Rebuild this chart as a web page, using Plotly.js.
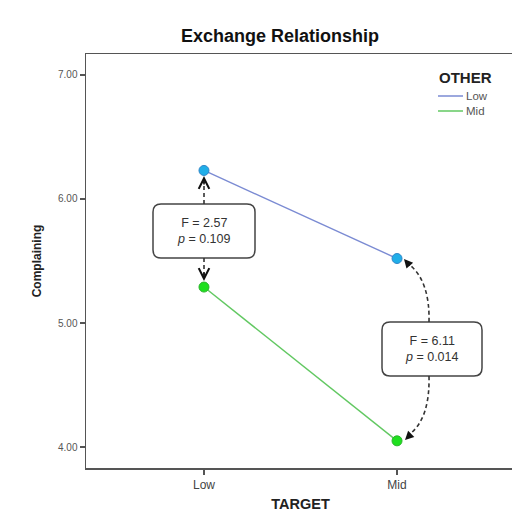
<!DOCTYPE html>
<html><head><meta charset="utf-8">
<script src="https://cdn.plot.ly/plotly-3.0.1.min.js"></script>
<style>html,body{margin:0;padding:0;overflow:hidden;background:#fff}#chart{width:515px;height:512px}</style>
</head><body><div id="chart"></div>
<script>
// ---- data ----
const targets = ['Low', 'Mid'];
const otherGroups = ['Low', 'Mid'];
const complainingOtherLow = [6.23, 5.52];
const complainingOtherMid = [5.29, 4.05];
const yTickVals = [4, 5, 6, 7];
const testF = ['2.57', '6.11'];
const testP = ['0.109', '0.014'];

// ---- geometry ----
const L = 86, T = 54, W = 429, H = 414;
const xr = [-0.611, 1.611], yr = [3.831, 7.169];
const X = px => xr[0] + (px - L) / W * (xr[1] - xr[0]);
const Y = py => yr[1] - (py - T) / H * (yr[1] - yr[0]);
const P = (px, py) => X(px).toFixed(5) + ',' + Y(py).toFixed(5);
function rrect(x0, y0, x1, y1, r) {
  return 'M' + P(x0 + r, y0) + ' L' + P(x1 - r, y0) + ' Q' + P(x1, y0) + ' ' + P(x1, y0 + r) +
    ' L' + P(x1, y1 - r) + ' Q' + P(x1, y1) + ' ' + P(x1 - r, y1) +
    ' L' + P(x0 + r, y1) + ' Q' + P(x0, y1) + ' ' + P(x0, y1 - r) +
    ' L' + P(x0, y0 + r) + ' Q' + P(x0, y0) + ' ' + P(x0 + r, y0) + ' Z';
}
const xi = targets.map((_, i) => i);
const font = 'Liberation Sans, Arial, sans-serif';
const seriesColors = ['#7b8bd3', '#62c862'];

const traces = [
  {x: xi, y: complainingOtherLow, name: otherGroups[0], type: 'scatter', mode: 'lines+markers',
   line: {color: seriesColors[0], width: 1.4},
   marker: {color: '#20aee8', size: 10, line: {color: '#2f86c8', width: 1}}},
  {x: xi, y: complainingOtherMid, name: otherGroups[1], type: 'scatter', mode: 'lines+markers',
   line: {color: seriesColors[1], width: 1.4},
   marker: {color: '#1fe01f', size: 10, line: {color: '#2cb52c', width: 1}}}
];

const dashC = '#333';
const legY = [96, 111];
const shapes = [
  {type: 'path', xref: 'x', yref: 'y', path: rrect(153, 204, 255, 258, 8), line: {color: '#444', width: 1.5}, fillcolor: '#fff', layer: 'above'},
  {type: 'path', xref: 'x', yref: 'y', path: rrect(382, 322, 482, 376, 8), line: {color: '#444', width: 1.5}, fillcolor: '#fff', layer: 'above'},
  {type: 'line', xref: 'x', yref: 'y', x0: X(204), x1: X(204), y0: Y(204), y1: Y(182), line: {color: dashC, width: 1.6, dash: '4px,3px'}},
  {type: 'line', xref: 'x', yref: 'y', x0: X(204), x1: X(204), y0: Y(258), y1: Y(275), line: {color: dashC, width: 1.6, dash: '4px,3px'}},
  {type: 'path', xref: 'x', yref: 'y', path: 'M' + P(429, 322) + ' Q' + P(430, 282) + ' ' + P(410, 265), line: {color: dashC, width: 1.6, dash: '4px,3px'}},
  {type: 'path', xref: 'x', yref: 'y', path: 'M' + P(429, 376) + ' Q' + P(430, 418) + ' ' + P(410, 434), line: {color: dashC, width: 1.6, dash: '4px,3px'}}
].concat(legY.map((py, i) => ({type: 'line', xref: 'paper', yref: 'paper', x0: (438 - L) / W, x1: (463 - L) / W,
  y0: (T + H - py) / H, y1: (T + H - py) / H, line: {color: seriesColors[i], width: 1.5}})));

const arrow = (tx, ty, fx, fy, head, size) => ({
  x: X(tx), y: Y(ty), ax: X(fx), ay: Y(fy), xref: 'x', yref: 'y', axref: 'x', ayref: 'y',
  text: '', showarrow: true, arrowhead: head, arrowsize: size, arrowwidth: 1.6, arrowcolor: '#111', standoff: 0
});

const annotations = [
  {x: X(204), y: Y(231), xref: 'x', yref: 'y', showarrow: false, xanchor: 'center', yanchor: 'middle',
   text: 'F = ' + testF[0] + '<br><i>p</i> = ' + testP[0], font: {family: font, size: 12.5, color: '#333'}},
  {x: X(432), y: Y(349), xref: 'x', yref: 'y', showarrow: false, xanchor: 'center', yanchor: 'middle',
   text: 'F = ' + testF[1] + '<br><i>p</i> = ' + testP[1], font: {family: font, size: 12.5, color: '#333'}},
  arrow(204, 176, 204, 186, 5, 1.3),
  arrow(204, 281, 204, 271, 5, 1.3),
  arrow(404, 259, 411, 267, 2, 1.1),
  arrow(405, 440, 412, 433, 2, 1.1),
  {xref: 'paper', yref: 'paper', x: (465 - L) / W, y: (T + H - 77) / H, xanchor: 'center', yanchor: 'middle', showarrow: false, text: '<b>OTHER</b>',
   font: {family: font, size: 15, color: '#222'}},
  {xref: 'paper', yref: 'paper', x: (464 - L) / W, y: (T + H - (legY[0] + legY[1]) / 2) / H, xanchor: 'left', yanchor: 'middle',
   align: 'left', showarrow: false, text: otherGroups.join('<br>'),
   font: {family: font, size: 11.5, color: '#555'}}
];

const layout = {
  width: 515, height: 512, autosize: false,
  margin: {l: L, r: 515 - L - W, t: T, b: 512 - T - H, pad: 0},
  paper_bgcolor: '#fff', plot_bgcolor: '#fff',
  showlegend: false,
  font: {family: font},
  title: {text: '<b>Exchange Relationship</b>', x: (280 - L) / W, xref: 'paper', xanchor: 'center',
          y: 1 - 36 / 512, yref: 'container', yanchor: 'middle', font: {family: font, size: 18, color: '#111'}},
  xaxis: {range: xr, tickvals: xi, ticktext: targets, showgrid: false, zeroline: false,
          showline: true, mirror: true, linecolor: '#555', linewidth: 1.5,
          ticks: 'outside', ticklen: 5, tickcolor: '#555', tickwidth: 1.5,
          tickfont: {family: font, size: 12, color: '#444'},
          title: {text: '<b>TARGET</b>', standoff: 8, font: {family: font, size: 14.5, color: '#222'}}},
  yaxis: {range: yr, tickvals: yTickVals, tickformat: '.2f', showgrid: false, zeroline: false,
          showline: true, mirror: true, linecolor: '#555', linewidth: 1.5,
          ticks: 'outside', ticklen: 5, tickcolor: '#555', tickwidth: 1.2,
          tickfont: {family: font, size: 10, color: '#555'},
          title: {text: '<b>Complaining</b>', standoff: 14, font: {family: font, size: 12, color: '#222'}}},
  shapes: shapes,
  annotations: annotations
};

Plotly.newPlot('chart', traces, layout, {displayModeBar: false, staticPlot: true});
</script>
</body></html>
